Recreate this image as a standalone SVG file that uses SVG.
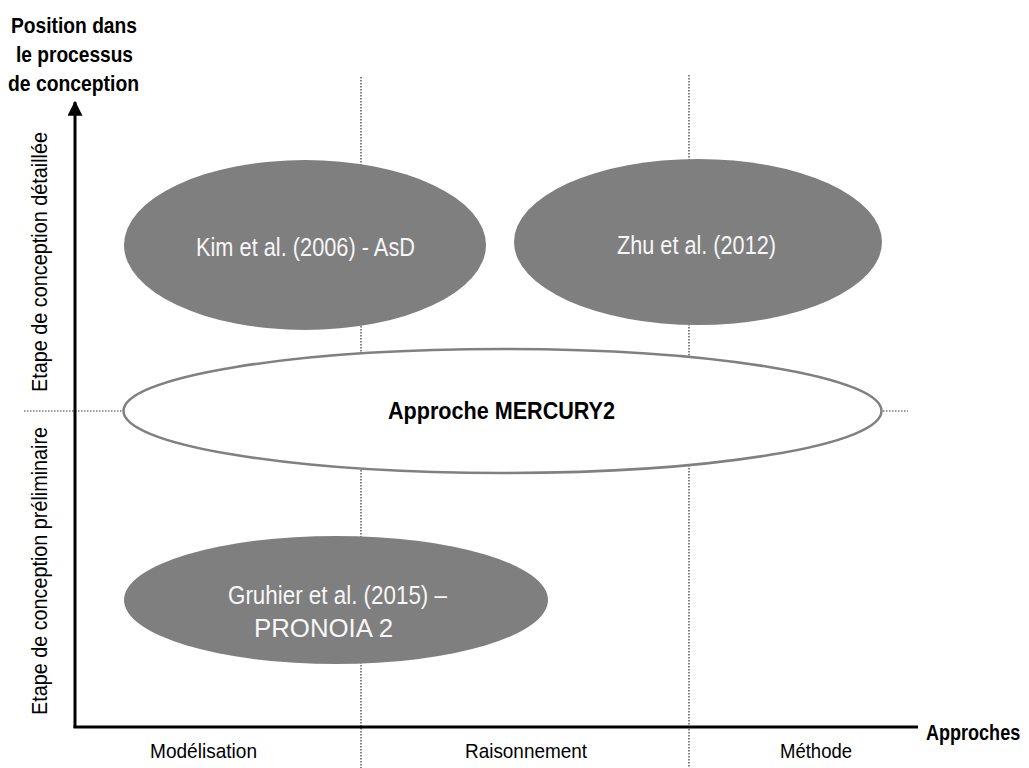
<svg xmlns="http://www.w3.org/2000/svg" width="1029" height="768" viewBox="0 0 1029 768">
<defs>
<style>
.t{font-family:"Liberation Sans",Arial,sans-serif;fill:#000}
.b{font-weight:bold}
.w{fill:#f7f7f7}
.dot{stroke:#333;stroke-width:1.2;stroke-dasharray:1.5 1.5;fill:none}
.axis{stroke:#000;stroke-width:3;fill:none}
.grey{fill:#7f7f7f;stroke:none}
</style>
<marker id="ah" markerWidth="5" markerHeight="5" refX="4.6" refY="2.5" orient="auto" markerUnits="strokeWidth">
<path d="M0,0 L5,2.5 L0,5 Z" fill="#000"/>
</marker>
</defs>
<rect width="1029" height="768" fill="#fff"/>
<g id="connectors">
<line class="dot" x1="361" y1="77" x2="361" y2="768"/>
<line class="dot" x1="689" y1="75" x2="689" y2="768"/>
<line class="dot" x1="24" y1="411" x2="125" y2="411"/>
<line class="dot" x1="880" y1="411" x2="908" y2="411"/>
<line class="axis" x1="75" y1="728" x2="75" y2="102" marker-end="url(#ah)"/>
<line class="axis" x1="73.5" y1="727" x2="918" y2="727"/>
</g>
<g id="axis-y-label">
<text class="t b" font-size="22" text-anchor="middle" x="74" y="33" textLength="126" lengthAdjust="spacingAndGlyphs">Position dans</text>
<text class="t b" font-size="22" text-anchor="middle" x="74.5" y="62" textLength="117" lengthAdjust="spacingAndGlyphs">le processus</text>
<text class="t b" font-size="22" text-anchor="middle" x="73.5" y="91" textLength="131" lengthAdjust="spacingAndGlyphs">de conception</text>
</g>
<g id="axis-x-label">
<text class="t b" font-size="22" transform="translate(926,740) scale(0.82,1)">Approches</text>
</g>
<g id="label-detaillee">
<text class="t" font-size="22" text-anchor="middle" transform="translate(47,262) rotate(-90)" textLength="260" lengthAdjust="spacingAndGlyphs">Etape de conception détaillée</text>
</g>
<g id="label-preliminaire">
<text class="t" font-size="22" text-anchor="middle" transform="translate(47,571) rotate(-90)" textLength="288" lengthAdjust="spacingAndGlyphs">Etape de conception préliminaire</text>
</g>
<g id="col-modelisation">
<text class="t" font-size="21" x="150" y="758" textLength="107" lengthAdjust="spacingAndGlyphs">Modélisation</text>
</g>
<g id="col-raisonnement">
<text class="t" font-size="21" text-anchor="middle" x="526" y="758" textLength="122" lengthAdjust="spacingAndGlyphs">Raisonnement</text>
</g>
<g id="col-methode">
<text class="t" font-size="21" x="780" y="758" textLength="72" lengthAdjust="spacingAndGlyphs">Méthode</text>
</g>
<g id="kim">
<ellipse class="grey" cx="305" cy="245" rx="181" ry="85"/>
<text class="t w" font-size="26" x="196" y="256" textLength="219" lengthAdjust="spacingAndGlyphs">Kim et al. (2006) - AsD</text>
</g>
<g id="zhu">
<ellipse class="grey" cx="698" cy="242" rx="184" ry="83"/>
<text class="t w" font-size="26" x="617" y="254" textLength="159" lengthAdjust="spacingAndGlyphs">Zhu et al. (2012)</text>
</g>
<g id="mercury">
<ellipse cx="502.5" cy="411" rx="379" ry="62" fill="#fff" stroke="#808080" stroke-width="2.5"/>
<text class="t b" font-size="24" x="388" y="419" textLength="227" lengthAdjust="spacingAndGlyphs">Approche MERCURY2</text>
</g>
<g id="gruhier">
<ellipse class="grey" cx="336" cy="600" rx="212" ry="64"/>
<text class="t w" font-size="26" x="228" y="604" textLength="219" lengthAdjust="spacingAndGlyphs">Gruhier et al. (2015) –</text>
<text class="t w" font-size="26" x="254" y="637" textLength="139" lengthAdjust="spacingAndGlyphs">PRONOIA 2</text>
</g>
</svg>
